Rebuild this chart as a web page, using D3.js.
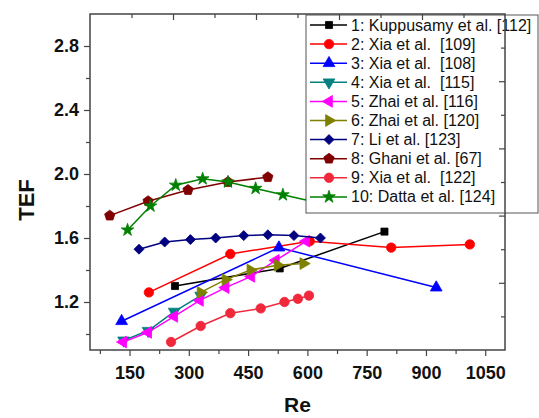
<!DOCTYPE html>
<html>
<head>
<meta charset="utf-8">
<script src="https://cdn.jsdelivr.net/npm/d3@7"></script>
<style>
  body { margin: 0; background: #fff; }
  text { font-family: "Liberation Sans", Arial, sans-serif; }
</style>
</head>
<body>
<script>
// values
const labels = ["1: Kuppusamy et al. [112]", "2: Xia et al.  [109]", "3: Xia et al.  [108]",
  "4: Xia et al.  [115]", "5: Zhai et al. [116]", "6: Zhai et al. [120]", "7: Li et al. [123]",
  "8: Ghani et al. [67]", "9: Xia et al.  [122]", "10: Datta et al. [124]"];

const re1 = [265, 530, 795];
const tef1 = [1.30, 1.41, 1.64];
const re2 = [199, 405, 606, 812, 1011];
const tef2 = [1.26, 1.50, 1.58, 1.54, 1.56];
const re3 = [130, 528, 926];
const tef3 = [1.08, 1.54, 1.29];
const re4 = [135, 197, 263, 330];
const tef4 = [0.96, 1.02, 1.14, 1.24];
const re5 = [134, 197, 263, 328, 393, 458, 520, 597];
const tef5 = [0.95, 1.01, 1.11, 1.21, 1.29, 1.36, 1.46, 1.58];
const re6 = [330, 393, 456, 525, 590];
const tef6 = [1.26, 1.34, 1.40, 1.43, 1.44];
const re7 = [174, 239, 304, 368, 439, 500, 566, 633];
const tef7 = [1.53, 1.575, 1.59, 1.60, 1.615, 1.62, 1.615, 1.60];
const re8 = [100, 197, 298, 399, 500];
const tef8 = [1.74, 1.83, 1.90, 1.95, 1.98];
const re9 = [255, 330, 405, 482, 542, 576, 604];
const tef9 = [0.95, 1.05, 1.13, 1.16, 1.20, 1.22, 1.24];
const re10 = [145, 203, 267, 335, 399, 469, 538, 610];
const tef10 = [1.65, 1.80, 1.93, 1.97, 1.95, 1.91, 1.87, 1.83];

const xTicks = [150, 300, 450, 600, 750, 900, 1050];
const yTicks = [1.2, 1.6, 2.0, 2.4, 2.8];

const colors = ["#000000", "#ff0000", "#0000ff", "#008080", "#ff00ff", "#808000",
  "#000080", "#800000", "#f0283c", "#008000"];

const series = [
  [re1, tef1], [re2, tef2], [re3, tef3], [re4, tef4], [re5, tef5],
  [re6, tef6], [re7, tef7], [re8, tef8], [re9, tef9], [re10, tef10]
].map((s, i) => ({ name: labels[i], color: colors[i], pts: s[0].map((r, j) => [r, s[1][j]]) }));

const W = 539, H = 418;
const pl = 90, pr = 505, pt = 14, pb = 350;

const x = d3.scaleLinear().domain([50, 1100]).range([pl, pr]);
const y = d3.scaleLinear().domain([0.9, 3.0]).range([pb, pt]);

const svg = d3.select("body").append("svg").attr("width", W).attr("height", H);

// marker shapes
const pentagon = {
  draw(ctx, size) {
    const r = Math.sqrt(size / 2.38);
    for (let k = 0; k < 5; k++) {
      const a = -Math.PI / 2 + k * 2 * Math.PI / 5;
      if (k == 0) ctx.moveTo(r * Math.cos(a), r * Math.sin(a));
      else ctx.lineTo(r * Math.cos(a), r * Math.sin(a));
    }
    ctx.closePath();
  }
};
const shapes = [
  [d3.symbolSquare, 0, 50], [d3.symbolCircle, 0, 70], [d3.symbolTriangle, 0, 60],
  [d3.symbolTriangle, 180, 60], [d3.symbolTriangle, -90, 60], [d3.symbolTriangle, 90, 60],
  [d3.symbolSquare, 45, 50], [pentagon, 0, 70], [d3.symbolCircle, 0, 70], [d3.symbolStar, 0, 50]
];
function marker(g, i, cx, cy) {
  g.append("path")
    .attr("d", d3.symbol().type(shapes[i][0]).size(shapes[i][2])())
    .attr("transform", `translate(${cx},${cy}) rotate(${shapes[i][1]})`)
    .attr("fill", series[i].color)
    .attr("stroke", series[i].color)
    .attr("stroke-width", 0.8);
}

const line = d3.line().x(d => x(d[0])).y(d => y(d[1]));

series.forEach((s, i) => {
  const g = svg.append("g");
  g.append("path").attr("d", line(s.pts)).attr("fill", "none")
    .attr("stroke", s.color).attr("stroke-width", 1.5);
  s.pts.forEach(p => marker(g, i, x(p[0]), y(p[1])));
});

// legend
const lg = svg.append("g");
lg.append("rect").attr("x", 306).attr("y", 15).attr("width", 232).attr("height", 198)
  .attr("fill", "#fff").attr("stroke", "#555").attr("stroke-width", 1);
series.forEach((s, i) => {
  const ly = 25 + i * 19.1;
  lg.append("line").attr("x1", 310).attr("x2", 347).attr("y1", ly).attr("y2", ly)
    .attr("stroke", s.color).attr("stroke-width", 1.5);
  marker(lg, i, 329, ly);
  lg.append("text").attr("x", 351).attr("y", ly + 5.5).attr("font-size", 16)
    .attr("fill", "#111").style("white-space", "pre").text(s.name);
});

// axes
const axCol = "#444";
const xMinor = d3.range(75, 1100, 150);
const yMinor = [1.0, 1.4, 1.8, 2.2, 2.6];

svg.append("g").attr("transform", `translate(0,${pb})`)
  .call(d3.axisBottom(x).tickValues(xTicks).tickSize(6).tickSizeOuter(0).tickPadding(10).tickFormat(d3.format("d")));
svg.append("g").attr("transform", `translate(0,${pb})`)
  .call(d3.axisBottom(x).tickValues(xMinor).tickSize(4).tickSizeOuter(0).tickFormat(""));
svg.append("g").attr("transform", `translate(${pl},0)`)
  .call(d3.axisLeft(y).tickValues(yTicks).tickSize(6).tickSizeOuter(0).tickPadding(5).tickFormat(d3.format(".1f")));
svg.append("g").attr("transform", `translate(${pl},0)`)
  .call(d3.axisLeft(y).tickValues(yMinor).tickSize(4).tickSizeOuter(0).tickFormat(""));

// mirrored frame axes with evenly spaced inward ticks
const topScale = d3.scaleLinear().domain([0, 10]).range([pl, pr]);
const rightScale = d3.scaleLinear().domain([0, 10]).range([pb, pt]);
svg.append("g").attr("transform", `translate(0,${pt})`)
  .call(d3.axisBottom(topScale).tickValues([2, 4, 6, 8]).tickSize(6).tickSizeOuter(0).tickFormat(""));
svg.append("g").attr("transform", `translate(0,${pt})`)
  .call(d3.axisBottom(topScale).tickValues([1, 3, 5, 7, 9]).tickSize(4).tickSizeOuter(0).tickFormat(""));
svg.append("g").attr("transform", `translate(${pr},0)`)
  .call(d3.axisLeft(rightScale).tickValues([2, 4, 6, 8]).tickSize(6).tickSizeOuter(0).tickFormat(""));
svg.append("g").attr("transform", `translate(${pr},0)`)
  .call(d3.axisLeft(rightScale).tickValues([1, 3, 5, 7, 9]).tickSize(4).tickSizeOuter(0).tickFormat(""));

svg.selectAll(".domain").remove();
svg.selectAll(".tick line").attr("stroke", axCol).attr("stroke-width", 1.2);
svg.selectAll(".tick text").attr("font-size", 18).attr("font-weight", "bold")
  .attr("fill", "#111").style("font-family", "'Liberation Sans', Arial, sans-serif");
svg.append("rect").attr("x", pl).attr("y", pt).attr("width", pr - pl).attr("height", pb - pt)
  .attr("fill", "none").attr("stroke", axCol).attr("stroke-width", 1.5);

svg.append("text").attr("x", (pl + pr) / 2).attr("y", 412).attr("text-anchor", "middle")
  .attr("font-size", 21).attr("font-weight", "bold").attr("fill", "#111").text("Re");
svg.append("text").attr("transform", "translate(34,200) rotate(-90)").attr("text-anchor", "middle")
  .attr("font-size", 22).attr("font-weight", "bold").attr("fill", "#111").text("TEF");
</script>
</body>
</html>
